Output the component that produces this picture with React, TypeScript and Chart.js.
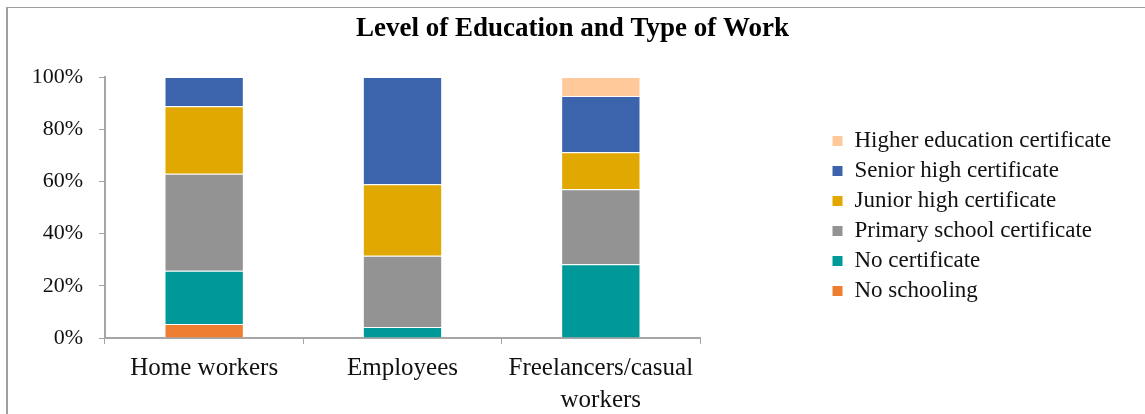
import React, { useEffect, useRef } from "react";
import { Chart, registerables } from "chart.js";

Chart.register(...registerables);

const categories: (string | string[])[] = ["Home workers", "Employees", ["Freelancers/casual", "workers"]];
const seriesNames = [
  "No schooling",
  "No certificate",
  "Primary school certificate",
  "Junior high certificate",
  "Senior high certificate",
  "Higher education certificate",
];
const noSchooling = [5.4, 0, 0];
const noCertificate = [20.4, 4.2, 28.3];
const primarySchool = [37.1, 27.3, 28.7];
const juniorHigh = [25.9, 27.4, 14.2];
const seniorHigh = [11.2, 41.1, 21.5];
const higherEducation = [0, 0, 7.3];
const yTickValues = [0, 20, 40, 60, 80, 100];

const colors = ["#ED7D31", "#009999", "#939393", "#E0A800", "#3C64AC", "#FFC999"];
const FONT = "'Liberation Serif', 'Times New Roman', serif";
const W = 1145;
const H = 414;
const LEGEND_W = 320;

const legendWidthPlugin = {
  id: "legendWidth",
  beforeUpdate(chart: any) {
    const lg = chart.legend;
    if (lg && !lg.__patched) {
      const orig = lg.fit;
      lg.fit = function () {
        orig.call(this);
        this.width = LEGEND_W;
      };
      lg.__patched = true;
    }
  },
};

export default function App() {
  const ref = useRef<HTMLCanvasElement | null>(null);
  useEffect(() => {
    if (!ref.current) return;
    const values = [noSchooling, noCertificate, primarySchool, juniorHigh, seniorHigh, higherEducation];
    const chart = new Chart(ref.current, {
      type: "bar",
      data: {
        labels: categories,
        datasets: seriesNames.map((name, i) => ({
          label: name,
          data: values[i],
          backgroundColor: colors[i],
          borderColor: "#ffffff",
          borderWidth: 1,
          categoryPercentage: 1,
          barPercentage: 0.4,
        })),
      },
      plugins: [legendWidthPlugin],
      options: {
        responsive: false,
        animation: false,
        layout: { padding: { left: 0, right: 0, top: 0, bottom: 0 } },
        plugins: {
          title: {
            display: true,
            text: "Level of Education and Type of Work",
            color: "#000",
            font: { family: FONT, size: 27, weight: "bold", lineHeight: 1.2 },
            padding: { top: 13, bottom: 31.6 },
          },
          legend: {
            position: "right",
            reverse: true,
            title: { display: true, text: "", padding: 4, font: { size: 10, lineHeight: 1 } },
            labels: {
              boxWidth: 11,
              boxHeight: 11,
              padding: 7,
              color: "#111",
              font: { family: FONT, size: 23 },
            },
          },
          tooltip: { enabled: false },
        },
        scales: {
          x: {
            stacked: true,
            grid: { drawOnChartArea: false, drawTicks: true, tickLength: 6, color: "#A6A6A6", offset: true },
            border: { display: true, color: "#A6A6A6", width: 2 },
            ticks: { color: "#111", font: { family: FONT, size: 25, lineHeight: 1.3 }, padding: 8, maxRotation: 0 },
            afterFit: (s: any) => {
              s.height = 76;
            },
          },
          y: {
            stacked: true,
            min: 0,
            max: 100,
            afterBuildTicks: (s: any) => {
              s.ticks = yTickValues.map((v) => ({ value: v }));
            },
            grid: { drawOnChartArea: false, drawTicks: true, tickLength: 6, color: "#A6A6A6" },
            border: { display: true, color: "#A6A6A6", width: 2 },
            ticks: {
              color: "#111",
              font: { family: FONT, size: 22 },
              padding: 16,
              callback: (v: any) => v + "%",
            },
            afterFit: (s: any) => {
              s.width = 105;
            },
          },
          y2: {
            type: "linear",
            position: "right",
            display: true,
            grid: { display: false },
            border: { display: false },
            ticks: { display: false },
            afterFit: (s: any) => {
              s.width = 125;
            },
          },
        },
      },
    } as any);
    return () => chart.destroy();
  }, []);
  return (
    <div style={{ position: "fixed", left: 0, top: 0, width: W, height: H, background: "#fff", overflow: "hidden" }}>
      <div
        style={{
          position: "absolute",
          left: 6,
          top: 7,
          width: 1300,
          height: 500,
          borderLeft: "2px solid #A0A0A0",
          borderTop: "1px solid #A0A0A0",
        }}
      />
      <canvas ref={ref} width={W} height={H} style={{ position: "absolute", left: 0, top: 0, width: W, height: H }} />
    </div>
  );
}
